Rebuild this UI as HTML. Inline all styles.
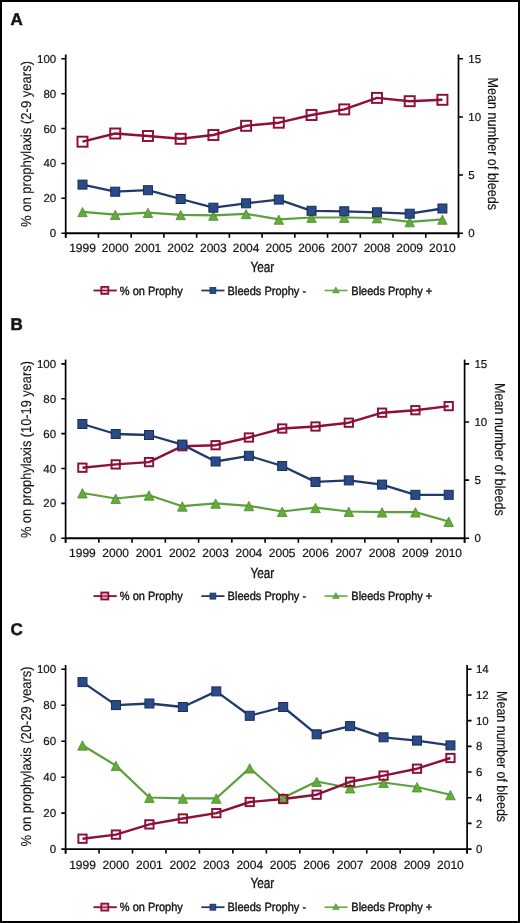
<!DOCTYPE html>
<html><head><meta charset="utf-8"><style>
html,body{margin:0;padding:0;background:#fff;}
body{width:520px;height:923px;overflow:hidden;position:relative;}
svg{position:absolute;left:0;top:0;display:block;will-change:transform;}
text{font-family:"Liberation Sans", sans-serif;fill:#141414;stroke:#141414;stroke-width:0.2px;text-rendering:geometricPrecision;}
</style></head><body>
<svg width="520" height="923" viewBox="0 0 520 923">
<rect x="1" y="1" width="518" height="921" fill="#fff" stroke="#000" stroke-width="2"/>
<text x="10.6" y="24.6" font-size="17" font-weight="bold" style="stroke-width:0.5px">A</text>
<path d="M65.7 54.5V237.7" stroke="#000" stroke-width="1.7" fill="none"/>
<path d="M458.5 54.5V237.7" stroke="#000" stroke-width="1.7" fill="none"/>
<path d="M65.7 233.2H458.5" stroke="#000" stroke-width="1.9" fill="none"/>
<path d="M65.7 233.2V237.7M98.43 233.2V237.7M131.17 233.2V237.7M163.9 233.2V237.7M196.63 233.2V237.7M229.37 233.2V237.7M262.1 233.2V237.7M294.83 233.2V237.7M327.57 233.2V237.7M360.3 233.2V237.7M393.03 233.2V237.7M425.77 233.2V237.7M458.5 233.2V237.7" stroke="#000" stroke-width="1.6" fill="none"/>
<text x="56.2" y="237.2" font-size="11.5" text-anchor="end">0</text>
<text x="56.2" y="202.32" font-size="11.5" text-anchor="end">20</text>
<text x="56.2" y="167.44" font-size="11.5" text-anchor="end">40</text>
<text x="56.2" y="132.56" font-size="11.5" text-anchor="end">60</text>
<text x="56.2" y="97.68" font-size="11.5" text-anchor="end">80</text>
<text x="56.2" y="62.8" font-size="11.5" text-anchor="end">100</text>
<path d="M61.4 233.2H65.7M61.4 198.32H65.7M61.4 163.44H65.7M61.4 128.56H65.7M61.4 93.68H65.7M61.4 58.8H65.7" stroke="#000" stroke-width="1.6" fill="none"/>
<text x="468.3" y="237.3" font-size="11.5">0</text>
<text x="468.3" y="179.17" font-size="11.5">5</text>
<text x="468.3" y="121.03" font-size="11.5">10</text>
<text x="468.3" y="62.9" font-size="11.5">15</text>
<path d="M458.5 233.2H463M458.5 175.07H463M458.5 116.93H463M458.5 58.8H463" stroke="#000" stroke-width="1.6" fill="none"/>
<text x="82.5" y="252.4" font-size="12" text-anchor="middle">1999</text>
<text x="115.22" y="252.4" font-size="12" text-anchor="middle">2000</text>
<text x="147.94" y="252.4" font-size="12" text-anchor="middle">2001</text>
<text x="180.66" y="252.4" font-size="12" text-anchor="middle">2002</text>
<text x="213.38" y="252.4" font-size="12" text-anchor="middle">2003</text>
<text x="246.1" y="252.4" font-size="12" text-anchor="middle">2004</text>
<text x="278.82" y="252.4" font-size="12" text-anchor="middle">2005</text>
<text x="311.54" y="252.4" font-size="12" text-anchor="middle">2006</text>
<text x="344.26" y="252.4" font-size="12" text-anchor="middle">2007</text>
<text x="376.98" y="252.4" font-size="12" text-anchor="middle">2008</text>
<text x="409.7" y="252.4" font-size="12" text-anchor="middle">2009</text>
<text x="442.42" y="252.4" font-size="12" text-anchor="middle">2010</text>
<text x="262.3" y="271.6" font-size="14.8" style="stroke-width:0.35px" text-anchor="middle" textLength="23.8" lengthAdjust="spacingAndGlyphs">Year</text>
<text transform="translate(30.8 144) rotate(-90)" x="0" y="0" font-size="14.3" style="stroke-width:0.15px" text-anchor="middle" textLength="166" lengthAdjust="spacingAndGlyphs">% on prophylaxis (2-9 years)</text>
<text transform="translate(488.4 143.8) rotate(90)" x="0" y="0" font-size="14.5" style="stroke-width:0.15px" text-anchor="middle" textLength="132.5" lengthAdjust="spacingAndGlyphs">Mean number of bleeds</text>
<polyline points="82.5,211.8 115.22,214.6 147.94,212.6 180.66,214.8 213.38,215.4 246.1,213.8 278.82,219.4 311.54,217.5 344.26,217.5 376.98,218 409.7,221.9 442.42,219.4" stroke="#5c9f3c" stroke-width="2.2" fill="none" stroke-linejoin="round"/>
<polyline points="82.5,141.7 115.22,133.5 147.94,136 180.66,138.8 213.38,135 246.1,125.8 278.82,122.7 311.54,115 344.26,109.4 376.98,97.9 409.7,101.2 442.42,99.8" stroke="#8e0f37" stroke-width="2.4" fill="none" stroke-linejoin="round"/>
<polyline points="82.5,184.6 115.22,191.7 147.94,190.2 180.66,199 213.38,207.7 246.1,203.3 278.82,199.6 311.54,210.8 344.26,211.3 376.98,212.3 409.7,213.7 442.42,208.5" stroke="#213a6c" stroke-width="2.3" fill="none" stroke-linejoin="round"/>
<path d="M82.5 207.48L87.2 216.69H77.8Z" fill="#62ac38" stroke="#4e8a30" stroke-width="0.8"/>
<path d="M115.22 210.28L119.92 219.49H110.52Z" fill="#62ac38" stroke="#4e8a30" stroke-width="0.8"/>
<path d="M147.94 208.28L152.64 217.49H143.24Z" fill="#62ac38" stroke="#4e8a30" stroke-width="0.8"/>
<path d="M180.66 210.48L185.36 219.69H175.96Z" fill="#62ac38" stroke="#4e8a30" stroke-width="0.8"/>
<path d="M213.38 211.08L218.08 220.29H208.68Z" fill="#62ac38" stroke="#4e8a30" stroke-width="0.8"/>
<path d="M246.1 209.48L250.8 218.69H241.4Z" fill="#62ac38" stroke="#4e8a30" stroke-width="0.8"/>
<path d="M278.82 215.08L283.52 224.29H274.12Z" fill="#62ac38" stroke="#4e8a30" stroke-width="0.8"/>
<path d="M311.54 213.18L316.24 222.39H306.84Z" fill="#62ac38" stroke="#4e8a30" stroke-width="0.8"/>
<path d="M344.26 213.18L348.96 222.39H339.56Z" fill="#62ac38" stroke="#4e8a30" stroke-width="0.8"/>
<path d="M376.98 213.68L381.68 222.89H372.28Z" fill="#62ac38" stroke="#4e8a30" stroke-width="0.8"/>
<path d="M409.7 217.58L414.4 226.79H405Z" fill="#62ac38" stroke="#4e8a30" stroke-width="0.8"/>
<path d="M442.42 215.08L447.12 224.29H437.72Z" fill="#62ac38" stroke="#4e8a30" stroke-width="0.8"/>
<rect x="77.5" y="136.7" width="10" height="10" fill="none" stroke="#8e0f37" stroke-width="1.95"/>
<rect x="110.22" y="128.5" width="10" height="10" fill="none" stroke="#8e0f37" stroke-width="1.95"/>
<rect x="142.94" y="131" width="10" height="10" fill="none" stroke="#8e0f37" stroke-width="1.95"/>
<rect x="175.66" y="133.8" width="10" height="10" fill="none" stroke="#8e0f37" stroke-width="1.95"/>
<rect x="208.38" y="130" width="10" height="10" fill="none" stroke="#8e0f37" stroke-width="1.95"/>
<rect x="241.1" y="120.8" width="10" height="10" fill="none" stroke="#8e0f37" stroke-width="1.95"/>
<rect x="273.82" y="117.7" width="10" height="10" fill="none" stroke="#8e0f37" stroke-width="1.95"/>
<rect x="306.54" y="110" width="10" height="10" fill="none" stroke="#8e0f37" stroke-width="1.95"/>
<rect x="339.26" y="104.4" width="10" height="10" fill="none" stroke="#8e0f37" stroke-width="1.95"/>
<rect x="371.98" y="92.9" width="10" height="10" fill="none" stroke="#8e0f37" stroke-width="1.95"/>
<rect x="404.7" y="96.2" width="10" height="10" fill="none" stroke="#8e0f37" stroke-width="1.95"/>
<rect x="437.42" y="94.8" width="10" height="10" fill="none" stroke="#8e0f37" stroke-width="1.95"/>
<rect x="78" y="180.1" width="9" height="9" fill="#2a4b88" stroke="#1a2c58" stroke-width="1"/>
<rect x="110.72" y="187.2" width="9" height="9" fill="#2a4b88" stroke="#1a2c58" stroke-width="1"/>
<rect x="143.44" y="185.7" width="9" height="9" fill="#2a4b88" stroke="#1a2c58" stroke-width="1"/>
<rect x="176.16" y="194.5" width="9" height="9" fill="#2a4b88" stroke="#1a2c58" stroke-width="1"/>
<rect x="208.88" y="203.2" width="9" height="9" fill="#2a4b88" stroke="#1a2c58" stroke-width="1"/>
<rect x="241.6" y="198.8" width="9" height="9" fill="#2a4b88" stroke="#1a2c58" stroke-width="1"/>
<rect x="274.32" y="195.1" width="9" height="9" fill="#2a4b88" stroke="#1a2c58" stroke-width="1"/>
<rect x="307.04" y="206.3" width="9" height="9" fill="#2a4b88" stroke="#1a2c58" stroke-width="1"/>
<rect x="339.76" y="206.8" width="9" height="9" fill="#2a4b88" stroke="#1a2c58" stroke-width="1"/>
<rect x="372.48" y="207.8" width="9" height="9" fill="#2a4b88" stroke="#1a2c58" stroke-width="1"/>
<rect x="405.2" y="209.2" width="9" height="9" fill="#2a4b88" stroke="#1a2c58" stroke-width="1"/>
<rect x="437.92" y="204" width="9" height="9" fill="#2a4b88" stroke="#1a2c58" stroke-width="1"/>
<path d="M93.5 290.5H116.8" stroke="#8e0f37" stroke-width="1.9"/>
<rect x="101.3" y="286.9" width="7" height="7" fill="#e9b6c4" stroke="#8e0f37" stroke-width="1.8"/>
<path d="M101.3 290.5H108.3" stroke="#8e0f37" stroke-width="1.2"/>
<text x="119.8" y="294.6" font-size="12" style="stroke-width:0.4px" textLength="63" lengthAdjust="spacingAndGlyphs">% on Prophy</text>
<path d="M201.3 290.5H224.5" stroke="#213a6c" stroke-width="1.8"/>
<rect x="210" y="287.5" width="5.8" height="6" fill="#2a4b88" stroke="#1a2c58" stroke-width="0.8"/>
<text x="227.6" y="294.6" font-size="12" style="stroke-width:0.4px" textLength="78.5" lengthAdjust="spacingAndGlyphs">Bleeds Prophy -</text>
<path d="M324.5 290.5H347.5" stroke="#6dae4d" stroke-width="1.7"/>
<path d="M335.9 286.9L339.3 292.9H332.5Z" fill="#62ac38" stroke="#4e8a30" stroke-width="0.5"/>
<text x="351.3" y="294.6" font-size="12" style="stroke-width:0.4px" textLength="81" lengthAdjust="spacingAndGlyphs">Bleeds Prophy +</text>
<text x="10.6" y="330.4" font-size="17" font-weight="bold" style="stroke-width:0.5px">B</text>
<path d="M65.6 359.6V542.8" stroke="#000" stroke-width="1.7" fill="none"/>
<path d="M464.6 359.6V542.8" stroke="#000" stroke-width="1.7" fill="none"/>
<path d="M65.6 538.3H464.6" stroke="#000" stroke-width="1.9" fill="none"/>
<path d="M65.6 538.3V542.8M98.85 538.3V542.8M132.1 538.3V542.8M165.35 538.3V542.8M198.6 538.3V542.8M231.85 538.3V542.8M265.1 538.3V542.8M298.35 538.3V542.8M331.6 538.3V542.8M364.85 538.3V542.8M398.1 538.3V542.8M431.35 538.3V542.8M464.6 538.3V542.8" stroke="#000" stroke-width="1.6" fill="none"/>
<text x="56.1" y="542.3" font-size="11.5" text-anchor="end">0</text>
<text x="56.1" y="507.42" font-size="11.5" text-anchor="end">20</text>
<text x="56.1" y="472.54" font-size="11.5" text-anchor="end">40</text>
<text x="56.1" y="437.66" font-size="11.5" text-anchor="end">60</text>
<text x="56.1" y="402.78" font-size="11.5" text-anchor="end">80</text>
<text x="56.1" y="367.9" font-size="11.5" text-anchor="end">100</text>
<path d="M61.3 538.3H65.6M61.3 503.42H65.6M61.3 468.54H65.6M61.3 433.66H65.6M61.3 398.78H65.6M61.3 363.9H65.6" stroke="#000" stroke-width="1.6" fill="none"/>
<text x="474.4" y="542.4" font-size="11.5">0</text>
<text x="474.4" y="484.27" font-size="11.5">5</text>
<text x="474.4" y="426.13" font-size="11.5">10</text>
<text x="474.4" y="368" font-size="11.5">15</text>
<path d="M464.6 538.3H469.1M464.6 480.17H469.1M464.6 422.03H469.1M464.6 363.9H469.1" stroke="#000" stroke-width="1.6" fill="none"/>
<text x="82.4" y="557.2" font-size="12" text-anchor="middle">1999</text>
<text x="115.7" y="557.2" font-size="12" text-anchor="middle">2000</text>
<text x="149" y="557.2" font-size="12" text-anchor="middle">2001</text>
<text x="182.3" y="557.2" font-size="12" text-anchor="middle">2002</text>
<text x="215.6" y="557.2" font-size="12" text-anchor="middle">2003</text>
<text x="248.9" y="557.2" font-size="12" text-anchor="middle">2004</text>
<text x="282.2" y="557.2" font-size="12" text-anchor="middle">2005</text>
<text x="315.5" y="557.2" font-size="12" text-anchor="middle">2006</text>
<text x="348.8" y="557.2" font-size="12" text-anchor="middle">2007</text>
<text x="382.1" y="557.2" font-size="12" text-anchor="middle">2008</text>
<text x="415.4" y="557.2" font-size="12" text-anchor="middle">2009</text>
<text x="448.7" y="557.2" font-size="12" text-anchor="middle">2010</text>
<text x="262.3" y="577.6" font-size="14.8" style="stroke-width:0.35px" text-anchor="middle" textLength="23.8" lengthAdjust="spacingAndGlyphs">Year</text>
<text transform="translate(30.8 449.6) rotate(-90)" x="0" y="0" font-size="14.3" style="stroke-width:0.15px" text-anchor="middle" textLength="177" lengthAdjust="spacingAndGlyphs">% on prophylaxis (10-19 years)</text>
<text transform="translate(494.6 449.4) rotate(90)" x="0" y="0" font-size="14.5" style="stroke-width:0.15px" text-anchor="middle" textLength="133" lengthAdjust="spacingAndGlyphs">Mean number of bleeds</text>
<polyline points="82.4,493 115.7,498.5 149,495.2 182.3,506.2 215.6,503.3 248.9,505.8 282.2,511.5 315.5,507.7 348.8,511.5 382.1,512.1 415.4,512.1 448.7,521.5" stroke="#5c9f3c" stroke-width="2.2" fill="none" stroke-linejoin="round"/>
<polyline points="82.4,467.7 115.7,464.4 149,462.1 182.3,446.2 215.6,445.2 248.9,437.5 282.2,428.5 315.5,426.5 348.8,422.7 382.1,412.7 415.4,410.2 448.7,406.1" stroke="#8e0f37" stroke-width="2.4" fill="none" stroke-linejoin="round"/>
<polyline points="82.4,424 115.7,434 149,435 182.3,444.6 215.6,461.5 248.9,455.8 282.2,466 315.5,481.9 348.8,480.4 382.1,484.6 415.4,494.8 448.7,494.8" stroke="#213a6c" stroke-width="2.3" fill="none" stroke-linejoin="round"/>
<path d="M82.4 488.58L87.2 497.99H77.6Z" fill="#62ac38" stroke="#4e8a30" stroke-width="0.8"/>
<path d="M115.7 494.08L120.5 503.49H110.9Z" fill="#62ac38" stroke="#4e8a30" stroke-width="0.8"/>
<path d="M149 490.78L153.8 500.19H144.2Z" fill="#62ac38" stroke="#4e8a30" stroke-width="0.8"/>
<path d="M182.3 501.78L187.1 511.19H177.5Z" fill="#62ac38" stroke="#4e8a30" stroke-width="0.8"/>
<path d="M215.6 498.88L220.4 508.29H210.8Z" fill="#62ac38" stroke="#4e8a30" stroke-width="0.8"/>
<path d="M248.9 501.38L253.7 510.79H244.1Z" fill="#62ac38" stroke="#4e8a30" stroke-width="0.8"/>
<path d="M282.2 507.08L287 516.49H277.4Z" fill="#62ac38" stroke="#4e8a30" stroke-width="0.8"/>
<path d="M315.5 503.28L320.3 512.69H310.7Z" fill="#62ac38" stroke="#4e8a30" stroke-width="0.8"/>
<path d="M348.8 507.08L353.6 516.49H344Z" fill="#62ac38" stroke="#4e8a30" stroke-width="0.8"/>
<path d="M382.1 507.68L386.9 517.09H377.3Z" fill="#62ac38" stroke="#4e8a30" stroke-width="0.8"/>
<path d="M415.4 507.68L420.2 517.09H410.6Z" fill="#62ac38" stroke="#4e8a30" stroke-width="0.8"/>
<path d="M448.7 517.08L453.5 526.49H443.9Z" fill="#62ac38" stroke="#4e8a30" stroke-width="0.8"/>
<rect x="78.25" y="463.55" width="8.3" height="8.3" fill="none" stroke="#8e0f37" stroke-width="1.95"/>
<rect x="111.55" y="460.25" width="8.3" height="8.3" fill="none" stroke="#8e0f37" stroke-width="1.95"/>
<rect x="144.85" y="457.95" width="8.3" height="8.3" fill="none" stroke="#8e0f37" stroke-width="1.95"/>
<rect x="178.15" y="442.05" width="8.3" height="8.3" fill="none" stroke="#8e0f37" stroke-width="1.95"/>
<rect x="211.45" y="441.05" width="8.3" height="8.3" fill="none" stroke="#8e0f37" stroke-width="1.95"/>
<rect x="244.75" y="433.35" width="8.3" height="8.3" fill="none" stroke="#8e0f37" stroke-width="1.95"/>
<rect x="278.05" y="424.35" width="8.3" height="8.3" fill="none" stroke="#8e0f37" stroke-width="1.95"/>
<rect x="311.35" y="422.35" width="8.3" height="8.3" fill="none" stroke="#8e0f37" stroke-width="1.95"/>
<rect x="344.65" y="418.55" width="8.3" height="8.3" fill="none" stroke="#8e0f37" stroke-width="1.95"/>
<rect x="377.95" y="408.55" width="8.3" height="8.3" fill="none" stroke="#8e0f37" stroke-width="1.95"/>
<rect x="411.25" y="406.05" width="8.3" height="8.3" fill="none" stroke="#8e0f37" stroke-width="1.95"/>
<rect x="444.55" y="401.95" width="8.3" height="8.3" fill="none" stroke="#8e0f37" stroke-width="1.95"/>
<rect x="77.9" y="419.5" width="9" height="9" fill="#2a4b88" stroke="#1a2c58" stroke-width="1"/>
<rect x="111.2" y="429.5" width="9" height="9" fill="#2a4b88" stroke="#1a2c58" stroke-width="1"/>
<rect x="144.5" y="430.5" width="9" height="9" fill="#2a4b88" stroke="#1a2c58" stroke-width="1"/>
<rect x="177.8" y="440.1" width="9" height="9" fill="#2a4b88" stroke="#1a2c58" stroke-width="1"/>
<rect x="211.1" y="457" width="9" height="9" fill="#2a4b88" stroke="#1a2c58" stroke-width="1"/>
<rect x="244.4" y="451.3" width="9" height="9" fill="#2a4b88" stroke="#1a2c58" stroke-width="1"/>
<rect x="277.7" y="461.5" width="9" height="9" fill="#2a4b88" stroke="#1a2c58" stroke-width="1"/>
<rect x="311" y="477.4" width="9" height="9" fill="#2a4b88" stroke="#1a2c58" stroke-width="1"/>
<rect x="344.3" y="475.9" width="9" height="9" fill="#2a4b88" stroke="#1a2c58" stroke-width="1"/>
<rect x="377.6" y="480.1" width="9" height="9" fill="#2a4b88" stroke="#1a2c58" stroke-width="1"/>
<rect x="410.9" y="490.3" width="9" height="9" fill="#2a4b88" stroke="#1a2c58" stroke-width="1"/>
<rect x="444.2" y="490.3" width="9" height="9" fill="#2a4b88" stroke="#1a2c58" stroke-width="1"/>
<path d="M93.5 596.1H116.8" stroke="#8e0f37" stroke-width="1.9"/>
<rect x="101.3" y="592.5" width="7" height="7" fill="#e9b6c4" stroke="#8e0f37" stroke-width="1.8"/>
<path d="M101.3 596.1H108.3" stroke="#8e0f37" stroke-width="1.2"/>
<text x="119.8" y="600.2" font-size="12" style="stroke-width:0.4px" textLength="63" lengthAdjust="spacingAndGlyphs">% on Prophy</text>
<path d="M201.3 596.1H224.5" stroke="#213a6c" stroke-width="1.8"/>
<rect x="210" y="593.1" width="5.8" height="6" fill="#2a4b88" stroke="#1a2c58" stroke-width="0.8"/>
<text x="227.6" y="600.2" font-size="12" style="stroke-width:0.4px" textLength="78.5" lengthAdjust="spacingAndGlyphs">Bleeds Prophy -</text>
<path d="M324.5 596.1H347.5" stroke="#6dae4d" stroke-width="1.7"/>
<path d="M335.9 592.5L339.3 598.5H332.5Z" fill="#62ac38" stroke="#4e8a30" stroke-width="0.5"/>
<text x="351.3" y="600.2" font-size="12" style="stroke-width:0.4px" textLength="81" lengthAdjust="spacingAndGlyphs">Bleeds Prophy +</text>
<text x="10.6" y="635.4" font-size="17" font-weight="bold" style="stroke-width:0.5px">C</text>
<path d="M65.6 665V853.6" stroke="#000" stroke-width="1.7" fill="none"/>
<path d="M467.1 665V853.6" stroke="#000" stroke-width="1.7" fill="none"/>
<path d="M65.6 849.1H467.1" stroke="#000" stroke-width="1.9" fill="none"/>
<path d="M65.6 849.1V853.6M99.06 849.1V853.6M132.52 849.1V853.6M165.97 849.1V853.6M199.43 849.1V853.6M232.89 849.1V853.6M266.35 849.1V853.6M299.81 849.1V853.6M333.27 849.1V853.6M366.73 849.1V853.6M400.18 849.1V853.6M433.64 849.1V853.6M467.1 849.1V853.6" stroke="#000" stroke-width="1.6" fill="none"/>
<text x="56.1" y="853.2" font-size="11.5" text-anchor="end">0</text>
<text x="56.1" y="817.24" font-size="11.5" text-anchor="end">20</text>
<text x="56.1" y="781.28" font-size="11.5" text-anchor="end">40</text>
<text x="56.1" y="745.32" font-size="11.5" text-anchor="end">60</text>
<text x="56.1" y="709.36" font-size="11.5" text-anchor="end">80</text>
<text x="56.1" y="673.4" font-size="11.5" text-anchor="end">100</text>
<path d="M61.3 849.1H65.6M61.3 813.14H65.6M61.3 777.18H65.6M61.3 741.22H65.6M61.3 705.26H65.6M61.3 669.3H65.6" stroke="#000" stroke-width="1.6" fill="none"/>
<text x="475.9" y="853.2" font-size="11.5">0</text>
<text x="475.9" y="827.51" font-size="11.5">2</text>
<text x="475.9" y="801.83" font-size="11.5">4</text>
<text x="475.9" y="776.14" font-size="11.5">6</text>
<text x="475.9" y="750.46" font-size="11.5">8</text>
<text x="475.9" y="724.77" font-size="11.5">10</text>
<text x="475.9" y="699.09" font-size="11.5">12</text>
<text x="475.9" y="673.4" font-size="11.5">14</text>
<path d="M467.1 849.1H471.6M467.1 823.41H471.6M467.1 797.73H471.6M467.1 772.04H471.6M467.1 746.36H471.6M467.1 720.67H471.6M467.1 694.99H471.6M467.1 669.3H471.6" stroke="#000" stroke-width="1.6" fill="none"/>
<text x="82.5" y="869" font-size="12" text-anchor="middle">1999</text>
<text x="115.95" y="869" font-size="12" text-anchor="middle">2000</text>
<text x="149.4" y="869" font-size="12" text-anchor="middle">2001</text>
<text x="182.85" y="869" font-size="12" text-anchor="middle">2002</text>
<text x="216.3" y="869" font-size="12" text-anchor="middle">2003</text>
<text x="249.75" y="869" font-size="12" text-anchor="middle">2004</text>
<text x="283.2" y="869" font-size="12" text-anchor="middle">2005</text>
<text x="316.65" y="869" font-size="12" text-anchor="middle">2006</text>
<text x="350.1" y="869" font-size="12" text-anchor="middle">2007</text>
<text x="383.55" y="869" font-size="12" text-anchor="middle">2008</text>
<text x="417" y="869" font-size="12" text-anchor="middle">2009</text>
<text x="450.45" y="869" font-size="12" text-anchor="middle">2010</text>
<text x="262.3" y="888.2" font-size="14.8" style="stroke-width:0.35px" text-anchor="middle" textLength="23.8" lengthAdjust="spacingAndGlyphs">Year</text>
<text transform="translate(30.8 756.4) rotate(-90)" x="0" y="0" font-size="14.3" style="stroke-width:0.15px" text-anchor="middle" textLength="180" lengthAdjust="spacingAndGlyphs">% on prophylaxis (20-29 years)</text>
<text transform="translate(496.9 756.6) rotate(90)" x="0" y="0" font-size="14.5" style="stroke-width:0.15px" text-anchor="middle" textLength="131" lengthAdjust="spacingAndGlyphs">Mean number of bleeds</text>
<polyline points="82.5,745.2 115.95,765.6 149.4,797.5 182.85,798.3 216.3,798.3 249.75,768.1 283.2,797.7 316.65,781.5 350.1,788 383.55,782.5 417,787 450.45,794.8" stroke="#5c9f3c" stroke-width="2.2" fill="none" stroke-linejoin="round"/>
<polyline points="82.5,838.7 115.95,834.6 149.4,824.4 182.85,818.5 216.3,813.1 249.75,802 283.2,799 316.65,794.7 350.1,781.8 383.55,775.6 417,768.7 450.45,758" stroke="#8e0f37" stroke-width="2.4" fill="none" stroke-linejoin="round"/>
<polyline points="82.5,682.1 115.95,705.1 149.4,703.5 182.85,707 216.3,691.4 249.75,715.8 283.2,707 316.65,734.3 350.1,726.1 383.55,737.3 417,740.6 450.45,745.4" stroke="#213a6c" stroke-width="2.3" fill="none" stroke-linejoin="round"/>
<path d="M82.5 740.78L87.3 750.19H77.7Z" fill="#62ac38" stroke="#4e8a30" stroke-width="0.8"/>
<path d="M115.95 761.18L120.75 770.59H111.15Z" fill="#62ac38" stroke="#4e8a30" stroke-width="0.8"/>
<path d="M149.4 793.08L154.2 802.49H144.6Z" fill="#62ac38" stroke="#4e8a30" stroke-width="0.8"/>
<path d="M182.85 793.88L187.65 803.29H178.05Z" fill="#62ac38" stroke="#4e8a30" stroke-width="0.8"/>
<path d="M216.3 793.88L221.1 803.29H211.5Z" fill="#62ac38" stroke="#4e8a30" stroke-width="0.8"/>
<path d="M249.75 763.68L254.55 773.09H244.95Z" fill="#62ac38" stroke="#4e8a30" stroke-width="0.8"/>
<path d="M283.2 793.28L288 802.69H278.4Z" fill="#62ac38" stroke="#4e8a30" stroke-width="0.8"/>
<path d="M316.65 777.08L321.45 786.49H311.85Z" fill="#62ac38" stroke="#4e8a30" stroke-width="0.8"/>
<path d="M350.1 783.58L354.9 792.99H345.3Z" fill="#62ac38" stroke="#4e8a30" stroke-width="0.8"/>
<path d="M383.55 778.08L388.35 787.49H378.75Z" fill="#62ac38" stroke="#4e8a30" stroke-width="0.8"/>
<path d="M417 782.58L421.8 791.99H412.2Z" fill="#62ac38" stroke="#4e8a30" stroke-width="0.8"/>
<path d="M450.45 790.38L455.25 799.79H445.65Z" fill="#62ac38" stroke="#4e8a30" stroke-width="0.8"/>
<rect x="78.35" y="834.55" width="8.3" height="8.3" fill="none" stroke="#8e0f37" stroke-width="1.95"/>
<rect x="111.8" y="830.45" width="8.3" height="8.3" fill="none" stroke="#8e0f37" stroke-width="1.95"/>
<rect x="145.25" y="820.25" width="8.3" height="8.3" fill="none" stroke="#8e0f37" stroke-width="1.95"/>
<rect x="178.7" y="814.35" width="8.3" height="8.3" fill="none" stroke="#8e0f37" stroke-width="1.95"/>
<rect x="212.15" y="808.95" width="8.3" height="8.3" fill="none" stroke="#8e0f37" stroke-width="1.95"/>
<rect x="245.6" y="797.85" width="8.3" height="8.3" fill="none" stroke="#8e0f37" stroke-width="1.95"/>
<rect x="279.05" y="794.85" width="8.3" height="8.3" fill="none" stroke="#8e0f37" stroke-width="1.95"/>
<rect x="312.5" y="790.55" width="8.3" height="8.3" fill="none" stroke="#8e0f37" stroke-width="1.95"/>
<rect x="345.95" y="777.65" width="8.3" height="8.3" fill="none" stroke="#8e0f37" stroke-width="1.95"/>
<rect x="379.4" y="771.45" width="8.3" height="8.3" fill="none" stroke="#8e0f37" stroke-width="1.95"/>
<rect x="412.85" y="764.55" width="8.3" height="8.3" fill="none" stroke="#8e0f37" stroke-width="1.95"/>
<rect x="446.3" y="753.85" width="8.3" height="8.3" fill="none" stroke="#8e0f37" stroke-width="1.95"/>
<rect x="78" y="677.6" width="9" height="9" fill="#2a4b88" stroke="#1a2c58" stroke-width="1"/>
<rect x="111.45" y="700.6" width="9" height="9" fill="#2a4b88" stroke="#1a2c58" stroke-width="1"/>
<rect x="144.9" y="699" width="9" height="9" fill="#2a4b88" stroke="#1a2c58" stroke-width="1"/>
<rect x="178.35" y="702.5" width="9" height="9" fill="#2a4b88" stroke="#1a2c58" stroke-width="1"/>
<rect x="211.8" y="686.9" width="9" height="9" fill="#2a4b88" stroke="#1a2c58" stroke-width="1"/>
<rect x="245.25" y="711.3" width="9" height="9" fill="#2a4b88" stroke="#1a2c58" stroke-width="1"/>
<rect x="278.7" y="702.5" width="9" height="9" fill="#2a4b88" stroke="#1a2c58" stroke-width="1"/>
<rect x="312.15" y="729.8" width="9" height="9" fill="#2a4b88" stroke="#1a2c58" stroke-width="1"/>
<rect x="345.6" y="721.6" width="9" height="9" fill="#2a4b88" stroke="#1a2c58" stroke-width="1"/>
<rect x="379.05" y="732.8" width="9" height="9" fill="#2a4b88" stroke="#1a2c58" stroke-width="1"/>
<rect x="412.5" y="736.1" width="9" height="9" fill="#2a4b88" stroke="#1a2c58" stroke-width="1"/>
<rect x="445.95" y="740.9" width="9" height="9" fill="#2a4b88" stroke="#1a2c58" stroke-width="1"/>
<path d="M93.5 907.2H116.8" stroke="#8e0f37" stroke-width="1.9"/>
<rect x="101.3" y="903.6" width="7" height="7" fill="#e9b6c4" stroke="#8e0f37" stroke-width="1.8"/>
<path d="M101.3 907.2H108.3" stroke="#8e0f37" stroke-width="1.2"/>
<text x="119.8" y="911.3" font-size="12" style="stroke-width:0.4px" textLength="63" lengthAdjust="spacingAndGlyphs">% on Prophy</text>
<path d="M201.3 907.2H224.5" stroke="#213a6c" stroke-width="1.8"/>
<rect x="210" y="904.2" width="5.8" height="6" fill="#2a4b88" stroke="#1a2c58" stroke-width="0.8"/>
<text x="227.6" y="911.3" font-size="12" style="stroke-width:0.4px" textLength="78.5" lengthAdjust="spacingAndGlyphs">Bleeds Prophy -</text>
<path d="M324.5 907.2H347.5" stroke="#6dae4d" stroke-width="1.7"/>
<path d="M335.9 903.6L339.3 909.6H332.5Z" fill="#62ac38" stroke="#4e8a30" stroke-width="0.5"/>
<text x="351.3" y="911.3" font-size="12" style="stroke-width:0.4px" textLength="81" lengthAdjust="spacingAndGlyphs">Bleeds Prophy +</text>
</svg>
</body></html>
